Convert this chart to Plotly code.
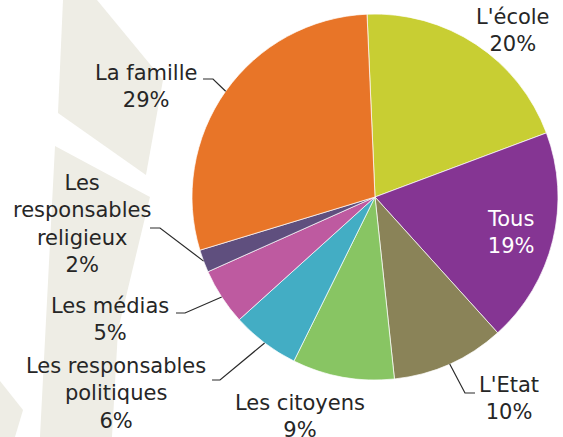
import math

import plotly.graph_objects as go

labels = [
    "L'école",
    "Tous",
    "L'Etat",
    "Les citoyens",
    "Les responsables politiques",
    "Les médias",
    "Les responsables religieux",
    "La famille",
]
values = [20, 19, 10, 9, 6, 5, 2, 29]
label_text = [
    "L'école",
    "Tous",
    "L'Etat",
    "Les citoyens",
    "Les responsables<br>politiques",
    "Les médias",
    "Les<br>responsables<br>religieux",
    "La famille",
]
colors = ["#C8CE33", "#853593", "#8A8358", "#88C563", "#43ADC4", "#BE5AA0", "#5F4F7E", "#E87528"]

W, H = 563, 437
CX, CY, R = 375, 197, 183
ROTATION = -2.5
TEXT = "#262626"
FONT = "DejaVu Sans"


def px(x, y):
    return x / W, 1 - y / H


label_pos = {
    "L'école": (513, 30),
    "Tous": (511, 233),
    "L'Etat": (509, 398),
    "Les citoyens": (300, 416),
    "Les responsables politiques": (116, 393),
    "Les médias": (110, 319),
    "Les responsables religieux": (82, 224),
    "La famille": (146, 86),
}
leaders = {
    "L'Etat": [(465, 393), (475, 393)],
    "Les responsables politiques": [(220, 380), (212, 380)],
    "Les médias": [(185, 313), (176, 313)],
    "Les responsables religieux": [(160, 228), (150, 228)],
    "La famille": [(213, 79), (203, 79)],
}

x0, y1 = px(CX - R, CY - R)
x1, y0 = px(CX + R, CY + R)

fig = go.Figure(
    go.Pie(
        labels=labels,
        values=values,
        sort=False,
        direction="clockwise",
        rotation=ROTATION,
        marker=dict(colors=colors, line=dict(color="white", width=0.7)),
        textinfo="none",
        hoverinfo="label+percent",
        showlegend=False,
        domain=dict(x=[x0, x1], y=[y0, y1]),
    )
)

# background decoration
shapes = []
for poly in [
    [(63, 0), (97, 0), (163, 80), (146, 175), (58, 113)],
    [(55, 146), (150, 197), (118, 330), (112, 437), (40, 437)],
    [(0, 381), (23, 410), (15, 437), (0, 437)],
]:
    pts = [px(x, y) for x, y in poly]
    path = "M " + " L ".join(f"{a:.4f},{b:.4f}" for a, b in pts) + " Z"
    shapes.append(dict(type="path", path=path, xref="paper", yref="paper", fillcolor="#EEEDE5", line=dict(width=0), layer="below"))

# leader lines start at the middle of each slice edge
total = sum(values)
start = ROTATION
annotations = []
for lab, txt, v in zip(labels, label_text, values):
    mid = math.radians(start + v / total * 180)
    start += v / total * 360
    if lab in leaders:
        pts = [(CX + R * math.sin(mid), CY - R * math.cos(mid))] + leaders[lab]
        pts = [px(x, y) for x, y in pts]
        path = "M " + " L ".join(f"{a:.4f},{b:.4f}" for a, b in pts)
        shapes.append(dict(type="path", path=path, xref="paper", yref="paper", line=dict(color="#2b2b2b", width=1.2), layer="above"))
    x, y = px(*label_pos[lab])
    annotations.append(
        dict(
            x=x,
            y=y,
            xref="paper",
            yref="paper",
            text=f"{txt}<br>{v}%",
            showarrow=False,
            align="center",
            xanchor="center",
            yanchor="middle",
            font=dict(family=FONT, size=21, color="white" if lab == "Tous" else TEXT),
        )
    )

fig.update_layout(
    width=W,
    height=H,
    margin=dict(l=0, r=0, t=0, b=0),
    paper_bgcolor="white",
    plot_bgcolor="white",
    shapes=shapes,
    annotations=annotations,
)

# drop the default page margin so the figure fills the window
fig.write_html(
    "out.html",
    config={"displayModeBar": False},
    post_script="document.body.style.margin = '0';",
)
